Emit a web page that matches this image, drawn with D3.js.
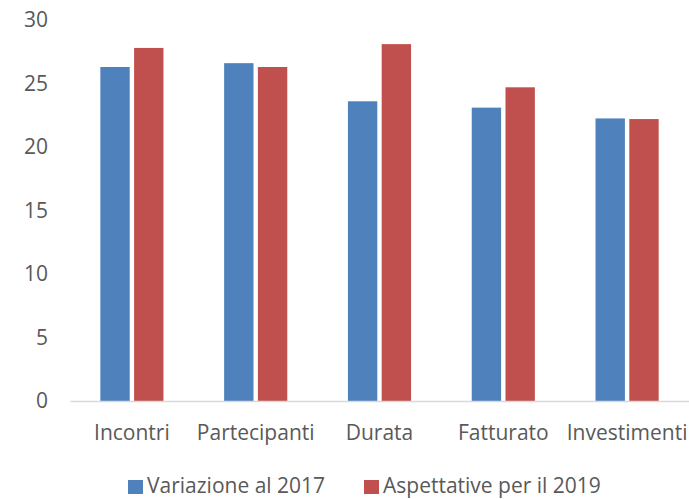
<html lang="it">
<head>
<meta charset="UTF-8">
<title>Grouped bar</title>
<style>
  body { margin: 0; background: #fff; }
  text { font-family: "Open Sans", sans-serif; fill: #595959; }
</style>
</head>
<body>
<script src="https://d3js.org/d3.v7.min.js"></script>
<svg id="bar"></svg>
<script>
    // data
    var categories = ["Incontri", "Partecipanti", "Durata", "Fatturato", "Investimenti"];
    var seriesNames = ["Variazione al 2017", "Aspettative per il 2019"];
    var variazione2017 = [26.3, 26.6, 23.6, 23.1, 22.25];
    var aspettative2019 = [27.8, 26.3, 28.1, 24.7, 22.2];
    var yTicks = [0, 5, 10, 15, 20, 25, 30];
    var colors = ["#4F81BD", "#C0504D"];

    var W = 689, H = 499,
        margin = {top: 20, right: 0, bottom: 98, left: 70},
        width = W - margin.left - margin.right,
        height = H - margin.top - margin.bottom;

    var data = categories.map(function(c, i) {
        return {cat: c, values: [variazione2017[i], aspettative2019[i]]};
    });

    var svg = d3.select("#bar")
        .attr("width", W)
        .attr("height", H);
    var g = svg.append("g")
        .attr("transform", `translate(${margin.left}, ${margin.top})`);

    var x0 = d3.scaleBand()
        .domain(categories)
        .range([0, width])
        .paddingInner(0.49)
        .paddingOuter(0.245);
    var x1 = d3.scaleBand()
        .domain([0, 1])
        .range([0, x0.bandwidth()])
        .paddingInner(0.13);
    var y = d3.scaleLinear()
        .domain([0, 30])
        .range([height, 0]);

    // y tick labels (no axis line, no gridlines)
    var yAxis = g.append("g")
        .call(d3.axisLeft(y).tickValues(yTicks).tickSize(0).tickPadding(22));
    yAxis.select(".domain").remove();
    yAxis.selectAll("text")
        .style("font-size", "21px")
        .style("font-family", "'Open Sans', sans-serif")
        .style("fill", "#595959");

    // bars
    g.append("g")
        .selectAll("g")
        .data(data)
        .enter().append("g")
            .attr("transform", function(d) { return `translate(${x0(d.cat)}, 0)`; })
        .selectAll("rect")
        .data(function(d) { return d.values.map(function(v, k) { return {k: k, v: v}; }); })
        .enter().append("rect")
            .attr("x", function(d) { return x1(d.k); })
            .attr("y", function(d) { return y(d.v); })
            .attr("width", x1.bandwidth())
            .attr("height", function(d) { return height - y(d.v); })
            .attr("fill", function(d) { return colors[d.k]; });

    // x axis
    var xAxis = g.append("g")
        .attr("transform", `translate(0, ${height})`)
        .call(d3.axisBottom(x0).tickSize(0).tickSizeOuter(0));
    xAxis.select(".domain").attr("stroke", "#D9D9D9").attr("stroke-width", 1.5);
    xAxis.selectAll("text")
        .attr("y", 39).attr("dy", null)
        .style("font-size", "21px")
        .style("font-family", "'Open Sans', sans-serif")
        .style("fill", "#595959");

    // legend
    var legend = svg.append("g")
        .attr("transform", "translate(128, 480)");
    var legendX = [0, 236];
    seriesNames.forEach(function(name, i) {
        var item = legend.append("g").attr("transform", `translate(${legendX[i]}, 0)`);
        item.append("rect")
            .attr("width", 15).attr("height", 14)
            .attr("fill", colors[i]);
        item.append("text")
            .attr("x", 19).attr("y", 13)
            .style("font-size", "21px")
            .text(name);
    });
</script>
</body>
</html>
